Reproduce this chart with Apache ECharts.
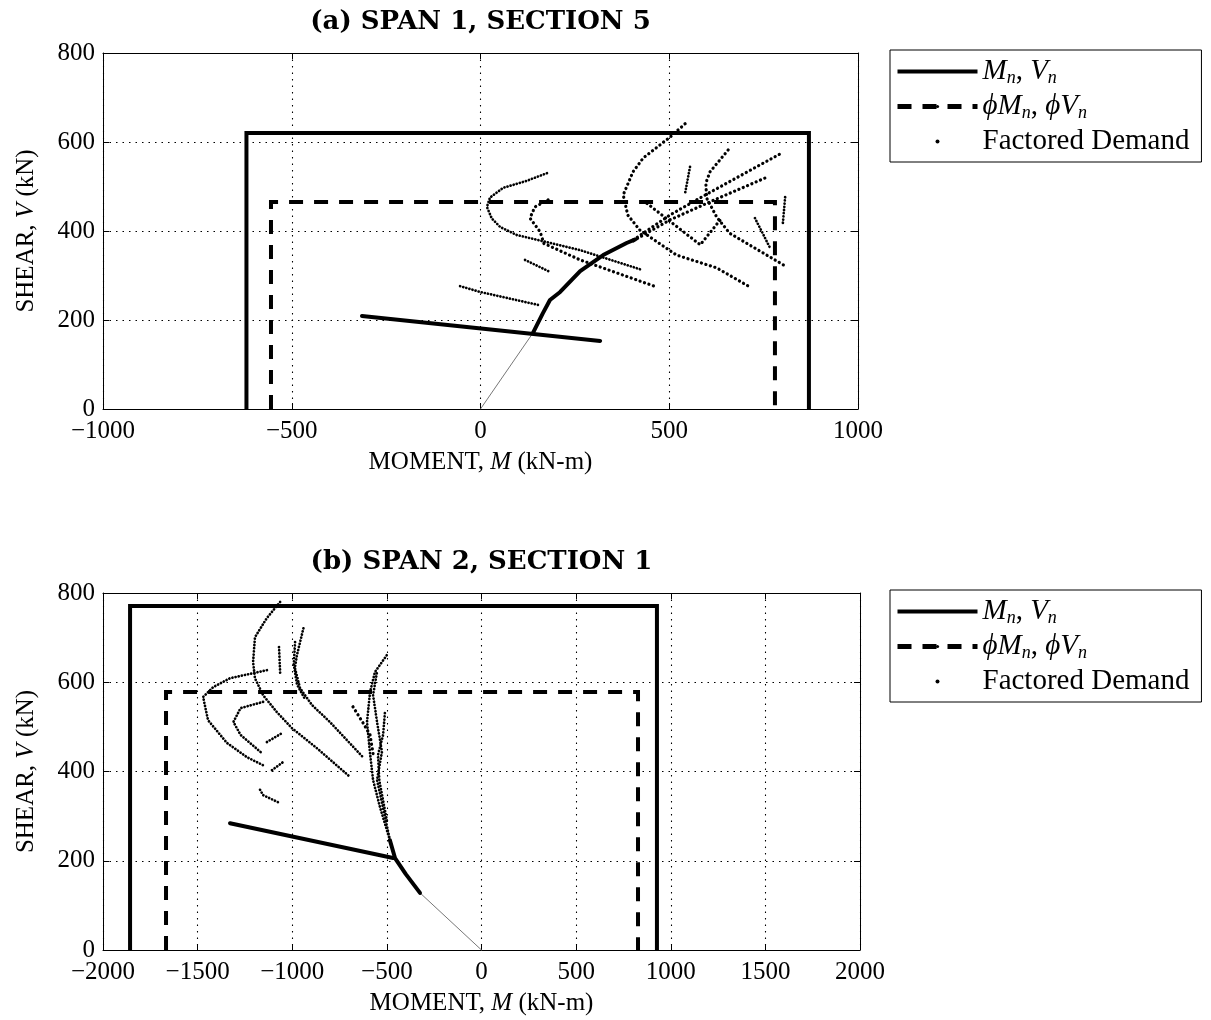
<!DOCTYPE html>
<html>
<head>
<meta charset="utf-8">
<script src="https://cdn.jsdelivr.net/npm/echarts@6/dist/echarts.min.js"></script>
<style>
html,body{margin:0;padding:0;background:#fff;}
#chart{width:1211px;height:1020px;}
</style>
</head>
<body>
<div id="chart"></div>
<script>
// ---------- tick values ----------
const topXTicks = [-1000, -500, 0, 500, 1000];
const topYTicks = [0, 200, 400, 600, 800];
const botXTicks = [-2000, -1500, -1000, -500, 0, 500, 1000, 1500, 2000];
const botYTicks = [0, 200, 400, 600, 800];

// ---------- (a) SPAN 1, SECTION 5 ----------
const topNominalBox  = [[-620, 0], [-620, 620], [870, 620], [870, 0]];
const topFactoredBox = [[-555, 0], [-555, 465], [780, 465], [780, 0]];
const topLoadPath    = [[0, 0], [139, 171]];
const topHeavyLine   = [[-314, 209], [317, 153]];
const topHeavyCurve  = [[139, 171], [165, 215], [184, 245], [211, 263], [264, 310], [325, 346], [387, 373], [410, 381]];
const topCurveA = [[405, 380], [502, 436], [589, 478], [793, 573]];
const topCurveB = [[405, 378], [502, 425], [620, 470], [759, 521]];
const topCurveC = [[176, 530], [120, 512], [60, 497], [25, 475], [17, 454], [30, 428], [52, 409], [96, 391], [264, 357], [430, 312]];
const topCurveZ = [[179, 470], [144, 454], [131, 429], [158, 398], [168, 372], [264, 335], [467, 274]];
const topShort1 = [[118, 335], [184, 308]];
const topShort2 = [[-54, 276], [-1, 263], [152, 234]];
const topCurveD = [[542, 641], [502, 611], [431, 564], [404, 533], [378, 481], [390, 436], [422, 402], [519, 346], [626, 317], [714, 274]];
const topCurveV = [[441, 462], [582, 369], [640, 430]];
const topCurveE = [[656, 582], [608, 533], [597, 508], [599, 474], [626, 431], [660, 395], [812, 319]];
const topShortF = [[555, 544], [542, 485]];
const topShortG = [[727, 429], [767, 362]];
const topShortH = [[807, 476], [801, 418]];

// ---------- (b) SPAN 2, SECTION 1 ----------
const botNominalBox  = [[-1857, 0], [-1857, 771], [927, 771], [927, 0]];
const botFactoredBox = [[-1667, 0], [-1667, 578], [827, 578], [827, 0]];
const botLoadPath    = [[0, 0], [-325, 128]];
const botHeavyLine   = [[-1329, 284], [-467, 206]];
const botHeavyCurve  = [[-325, 128], [-400, 170], [-457, 206], [-484, 246]];
const botStrand1 = [[-484, 246], [-537, 321], [-573, 381], [-589, 441], [-605, 511], [-589, 578], [-563, 623], [-500, 661]];
const botStrand2 = [[-484, 246], [-526, 330], [-552, 381], [-526, 444], [-552, 511], [-573, 571], [-552, 623]];
const botStrand3 = [[-500, 290], [-540, 380], [-547, 437], [-520, 482], [-510, 533]];
const botBranch  = [[-679, 545], [-626, 509], [-589, 482], [-573, 440]];
const botCurveP  = [[-1064, 780], [-1134, 744], [-1197, 701], [-1207, 645], [-1197, 609], [-1154, 571], [-1081, 533], [-1001, 497], [-869, 452], [-695, 388]];
const botCurveQ  = [[-941, 721], [-975, 661], [-986, 632], [-959, 587], [-896, 549], [-801, 511], [-626, 432]];
const botCurveQ2 = [[-985, 690], [-992, 640], [-975, 595], [-930, 560]];
const botCurveR  = [[-1134, 627], [-1329, 609], [-1418, 589], [-1471, 567], [-1445, 515], [-1345, 464], [-1239, 432], [-1154, 414]];
const botCurveS  = [[-1154, 556], [-1273, 542], [-1311, 511], [-1273, 482], [-1160, 441]];
const botShortT  = [[-1070, 679], [-1064, 621]];
const botShortU  = [[-1134, 466], [-1054, 486]];
const botShortW  = [[-1107, 403], [-1049, 421]];
const botShortX  = [[-1170, 359], [-1154, 347], [-1064, 329]];

// ---------- styling / building ----------
const FONT = 'Liberation Serif';
const minus = v => String(v).replace('-', '\u2212');
const STYLES = {
  heavy:  {width: 4, type: 'solid'},
  dense:  {width: 2.7, type: [0.1, 3.1]},
  sparse: {width: 3.2, type: [0.1, 4.6]},
  thin:   {width: 1, type: 'solid', color: '#777'}
};
function demand(data, g, style) {
  const s = STYLES[style];
  return {
    type: 'line', name: 'Factored Demand', xAxisIndex: g * 2, yAxisIndex: g * 2,
    data: data, symbol: 'none', silent: true, z: 3,
    itemStyle: {color: '#000'},
    lineStyle: {color: s.color || '#000', width: s.width, type: s.type, cap: 'round', join: 'round'}
  };
}
function boxSeries(name, data, g, dashed) {
  return {
    type: 'line', name: name, xAxisIndex: g * 2, yAxisIndex: g * 2,
    data: data, symbol: 'none', silent: true, z: 4,
    itemStyle: {color: '#000'},
    lineStyle: {color: '#000', width: 4, type: dashed ? [14, 11] : 'solid', join: 'miter'}
  };
}
function xAxes(g, ticks, title) {
  const base = {
    gridIndex: g, type: 'value', min: ticks[0], max: ticks[ticks.length - 1],
    interval: ticks[1] - ticks[0],
    axisLine: {show: true, onZero: false, lineStyle: {color: '#000', width: 1}},
    axisTick: {show: true, inside: true, length: 6, lineStyle: {color: '#000'}}
  };
  return [
    Object.assign({}, base, {
      position: 'bottom',
      axisLabel: {color: '#000', fontFamily: FONT, fontSize: 25, margin: 10, formatter: minus},
      splitLine: {show: true, lineStyle: {color: '#000', width: 1.1, type: [1.5, 5]}},
      name: 'MOMENT, {i|M} (kN-m)', nameLocation: 'middle', nameGap: 41,
      nameTextStyle: {color: '#000', fontFamily: FONT, fontSize: 25,
        rich: {i: {fontStyle: 'italic', fontFamily: FONT, fontSize: 25, color: '#000'}}}
    }),
    Object.assign({}, base, {
      position: 'top', axisLabel: {show: false}, splitLine: {show: false},
      name: title, nameLocation: 'middle', nameGap: 18,
      nameTextStyle: {color: '#000', fontFamily: 'DejaVu Serif', fontWeight: 'bold', fontSize: 26}
    })
  ];
}
function yAxes(g, ticks) {
  const base = {
    gridIndex: g, type: 'value', min: ticks[0], max: ticks[ticks.length - 1],
    interval: ticks[1] - ticks[0],
    axisLine: {show: true, onZero: false, lineStyle: {color: '#000', width: 1}},
    axisTick: {show: true, inside: true, length: 6, lineStyle: {color: '#000'}}
  };
  return [
    Object.assign({}, base, {
      position: 'left',
      axisLabel: {color: '#000', fontFamily: FONT, fontSize: 25, margin: 8, formatter: minus},
      splitLine: {show: true, lineStyle: {color: '#000', width: 1.1, type: [1.5, 5]}},
      name: 'SHEAR, {i|V} (kN)', nameLocation: 'middle', nameGap: 64, nameRotate: 90,
      nameTextStyle: {color: '#000', fontFamily: FONT, fontSize: 25,
        rich: {i: {fontStyle: 'italic', fontFamily: FONT, fontSize: 25, color: '#000'}}}
    }),
    Object.assign({}, base, {position: 'right', axisLabel: {show: false}, splitLine: {show: false}})
  ];
}
const legendText = {
  'Mn': '{i|M}{s|n}, {i|V}{s|n}',
  'phiMn': '{i|\u03D5M}{s|n}, {i|\u03D5V}{s|n}',
  'Factored Demand': 'Factored Demand'
};
function legend(top) {
  return {
    orient: 'vertical', left: 890, top: top, itemWidth: 80, itemHeight: 4, itemGap: 5,
    borderColor: '#000', borderWidth: 1, padding: [7, 12, 6, 5], selectedMode: false,
    data: [
      {name: 'Mn', lineStyle: {width: 4}},
      {name: 'phiMn', lineStyle: {width: 5}},
      {name: 'Factored Demand', icon: 'circle', itemStyle: {color: '#000'}}
    ],
    formatter: n => legendText[n],
    textStyle: {color: '#000', fontFamily: FONT, fontSize: 29,
      rich: {
        i: {fontStyle: 'italic', fontFamily: FONT, fontSize: 29, color: '#000'},
        s: {fontStyle: 'italic', fontFamily: FONT, fontSize: 18, color: '#000', padding: [13, 0, 0, 0]}
      }}
  };
}

const series = [
  boxSeries('Mn', topNominalBox, 0, false),
  boxSeries('phiMn', topFactoredBox, 0, true),
  demand(topLoadPath, 0, 'thin'),
  demand(topHeavyLine, 0, 'heavy'),
  demand(topHeavyCurve, 0, 'heavy'),
  demand(topCurveA, 0, 'sparse'),
  demand(topCurveB, 0, 'sparse'),
  demand(topCurveC, 0, 'dense'),
  demand(topCurveZ, 0, 'sparse'),
  demand(topShort1, 0, 'dense'),
  demand(topShort2, 0, 'dense'),
  demand(topCurveD, 0, 'sparse'),
  demand(topCurveV, 0, 'sparse'),
  demand(topCurveE, 0, 'sparse'),
  demand(topShortF, 0, 'dense'),
  demand(topShortG, 0, 'dense'),
  demand(topShortH, 0, 'dense'),

  boxSeries('Mn', botNominalBox, 1, false),
  boxSeries('phiMn', botFactoredBox, 1, true),
  demand(botLoadPath, 1, 'thin'),
  demand(botHeavyLine, 1, 'heavy'),
  demand(botHeavyCurve, 1, 'heavy'),
  demand(botStrand1, 1, 'dense'),
  demand(botStrand2, 1, 'dense'),
  demand(botStrand3, 1, 'dense'),
  demand(botBranch, 1, 'sparse'),
  demand(botCurveP, 1, 'dense'),
  demand(botCurveQ, 1, 'dense'),
  demand(botCurveQ2, 1, 'dense'),
  demand(botCurveR, 1, 'dense'),
  demand(botCurveS, 1, 'dense'),
  demand(botShortT, 1, 'dense'),
  demand(botShortU, 1, 'dense'),
  demand(botShortW, 1, 'dense'),
  demand(botShortX, 1, 'dense')
];

const chart = echarts.init(document.getElementById('chart'), null, {renderer: 'canvas'});
chart.setOption({
  animation: false,
  backgroundColor: '#fff',
  grid: [
    {left: 103, top: 53, width: 755, height: 356, containLabel: false, outerBoundsMode: 'none'},
    {left: 103, top: 593, width: 757, height: 357, containLabel: false, outerBoundsMode: 'none'}
  ],
  xAxis: [].concat(xAxes(0, topXTicks, '(a) SPAN 1, SECTION 5'), xAxes(1, botXTicks, '(b) SPAN 2, SECTION 1')),
  yAxis: [].concat(yAxes(0, topYTicks), yAxes(1, botYTicks)),
  legend: [legend(50), legend(590)],
  series: series
});
</script>
</body>
</html>
